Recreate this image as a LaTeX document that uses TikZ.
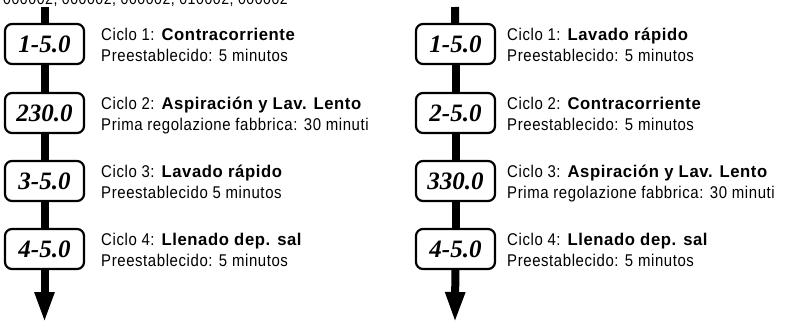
\documentclass[tikz,border=0pt]{standalone}
\usepackage{fontspec}
\setmainfont{Liberation Sans}[FakeStretch=0.88,LetterSpace=3.5,BoldFeatures={FakeStretch=0.98}]
\newfontfamily\numfont{Liberation Serif}
\usetikzlibrary{arrows.meta}
\begin{document}
\begin{tikzpicture}[x=1pt,y=-1pt,
  stepbox/.style={draw, line width=2.2pt, rounded corners=7pt, minimum width=79pt, minimum height=40pt,
    inner sep=0pt, fill=white, font=\numfont\fontsize{25}{25}\selectfont\bfseries\itshape,
    text height=17pt, text depth=0pt},
  flow/.style={line width=8pt},
  lab/.style={anchor=base west, inner sep=0pt, font=\fontsize{17}{21}\selectfont}]
\useasboundingbox (0,0) rectangle (788,324);
\begin{scope}
\clip (0,0) rectangle (788,324);
\node[lab, font=\fontsize{16}{20}\selectfont] (hdr) at (3,5) {000002, 000002, 000002, 010002, 000002};
\end{scope}
% left column
\coordinate (ltop) at (44.5,7);
\coordinate (ltip) at (44.5,323);
\node[stepbox] (l1) at (44.5,44) {1-5.0};
\node[stepbox] (l2) at (44.5,113) {230.0};
\node[stepbox] (l3) at (44.5,181) {3-5.0};
\node[stepbox] (l4) at (44.5,249) {4-5.0};
\draw[flow] (ltop) -- (l1);
\draw[flow] (l1) -- (l2);
\draw[flow] (l2) -- (l3);
\draw[flow] (l3) -- (l4);
\draw[flow,-{Triangle[length=31pt,width=18pt]}] (l4) -- (ltip);
\node[lab] (la1) at (101,40) {Ciclo 1: \textbf{Contracorriente}};
\node[lab] (lb1) at (101,61) {Preestablecido: 5 minutos};
\node[lab] (la2) at (101,109) {Ciclo 2: \textbf{Aspiración y Lav. Lento}};
\node[lab] (lb2) at (101,130) {Prima regolazione fabbrica: 30 minuti};
\node[lab] (la3) at (101,177) {Ciclo 3: \textbf{Lavado rápido}};
\node[lab] (lb3) at (101,198) {Preestablecido 5 minutos};
\node[lab] (la4) at (101,245) {Ciclo 4: \textbf{Llenado dep. sal}};
\node[lab] (lb4) at (101,266) {Preestablecido: 5 minutos};
% right column
\coordinate (rtop) at (455,7);
\coordinate (rtip) at (455,323);
\node[stepbox] (r1) at (455.5,44) {1-5.0};
\node[stepbox] (r2) at (455.5,113) {2-5.0};
\node[stepbox] (r3) at (455.5,181) {330.0};
\node[stepbox] (r4) at (455.5,249) {4-5.0};
\draw[flow] (rtop) -- (r1);
\draw[flow] (r1) -- (r2);
\draw[flow] (r2) -- (r3);
\draw[flow] (r3) -- (r4);
\draw[flow,-{Triangle[length=31pt,width=18pt]}] (r4) -- (rtip);
\node[lab] (ra1) at (507,40) {Ciclo 1: \textbf{Lavado rápido}};
\node[lab] (rb1) at (507,61) {Preestablecido: 5 minutos};
\node[lab] (ra2) at (507,109) {Ciclo 2: \textbf{Contracorriente}};
\node[lab] (rb2) at (507,130) {Preestablecido: 5 minutos};
\node[lab] (ra3) at (507,177) {Ciclo 3: \textbf{Aspiración y Lav. Lento}};
\node[lab] (rb3) at (507,198) {Prima regolazione fabbrica: 30 minuti};
\node[lab] (ra4) at (507,245) {Ciclo 4: \textbf{Llenado dep. sal}};
\node[lab] (rb4) at (507,266) {Preestablecido: 5 minutos};
\end{tikzpicture}
\end{document}
